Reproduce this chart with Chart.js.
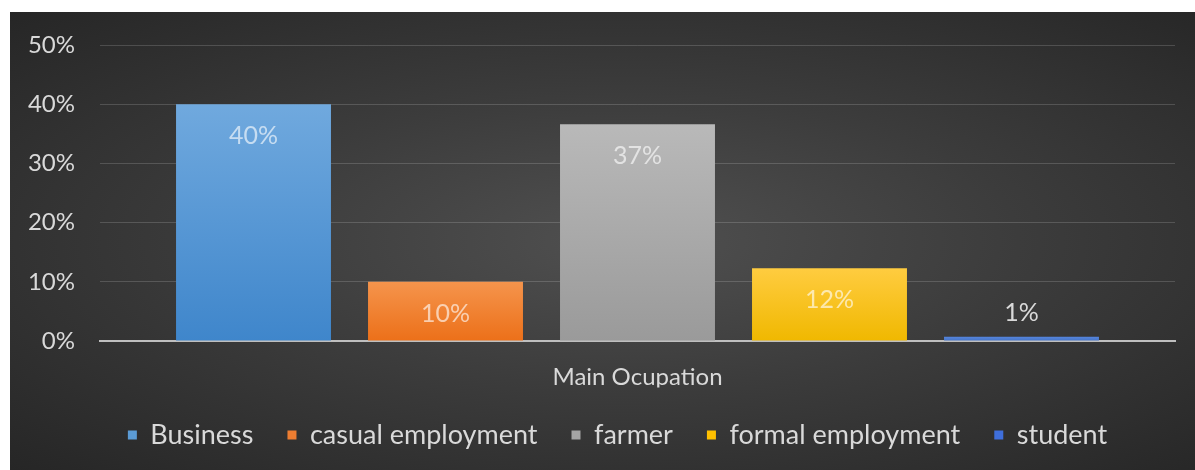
<!DOCTYPE html>
<html>
<head>
<meta charset="utf-8">
<script src="https://cdn.jsdelivr.net/npm/chart.js@4.4.1/dist/chart.umd.min.js"></script>
<style>
  html, body { margin: 0; padding: 0; background: #fff; }
  #panel {
    position: absolute; left: 10px; top: 12px;
    width: 1185px; height: 458px;
    background: radial-gradient(ellipse farthest-corner at 52% 50%, #505050 0%, #3c3c3c 45%, #262626 100%);
  }
  canvas { display: block; }
</style>
</head>
<body>
<div id="panel"><canvas id="occChart" width="1185" height="458"></canvas></div>
<script>
// Main occupation shares (percent)
const categories = ['Main Ocupation'];
const seriesNames = ['Business', 'casual employment', 'farmer', 'formal employment', 'student'];
const seriesValues = [40, 10, 36.6, 12.3, 0.7];
const yTicks = [0, 10, 20, 30, 40, 50];

// top / bottom gradient stops for each bar, plus the legend swatch
const barColours = [
  ['#70a9de', '#3f86cb'],
  ['#f5944c', '#ec7019'],
  ['#b9b9b9', '#9a9a9a'],
  ['#ffcc40', '#f0b800'],
  ['#5585dd', '#4472c4']
];
const swatches = ['#5b9bd5', '#ed7d31', '#a5a5a5', '#ffc000', '#3f6fdc'];

const TEXT = '#d9d9d9';
const FONT = "Lato, 'Open Sans', sans-serif";

const barGradient = (i) => (ctx) => {
  const { chart } = ctx;
  const area = chart.chartArea;
  const y = chart.scales.y;
  if (!area || !y) return barColours[i][1];
  const top = y.getPixelForValue(seriesValues[i]);
  if (!isFinite(top)) return barColours[i][1];
  const g = chart.ctx.createLinearGradient(0, top, 0, area.bottom);
  g.addColorStop(0, barColours[i][0]);
  g.addColorStop(1, barColours[i][1]);
  return g;
};

// value labels: inside the top of the bar, or above it when the bar is too short
const valueLabels = {
  id: 'valueLabels',
  afterDatasetsDraw(chart) {
    const ctx = chart.ctx;
    ctx.save();
    ctx.font = `25px ${FONT}`;
    ctx.textAlign = 'center';
    ctx.textBaseline = 'middle';
    chart.data.datasets.forEach((ds, i) => {
      const bar = chart.getDatasetMeta(i).data[0];
      const v = ds.data[0];
      const txt = Math.round(v) + '%';
      if (bar.base - bar.y > 45) {
        ctx.fillStyle = 'rgba(255,255,255,0.62)';
        ctx.fillText(txt, bar.x, bar.y + 32);
      } else {
        ctx.fillStyle = TEXT;
        ctx.fillText(txt, bar.x, bar.y - 24);
      }
    });
    ctx.restore();
  }
};

// legend row sits a little right of the canvas centre, under the bar group
const legendShift = {
  id: 'legendShift',
  afterLayout(chart) {
    const l = chart.legend;
    l.left += 25;
    l.right += 25;
  }
};

new Chart(document.getElementById('occChart'), {
  type: 'bar',
  data: {
    labels: categories,
    datasets: seriesNames.map((name, i) => ({
      label: name,
      data: [seriesValues[i]],
      backgroundColor: barGradient(i),
      borderWidth: 0,
      categoryPercentage: 0.893,
      barPercentage: 0.807
    }))
  },
  options: {
    responsive: false,
    animation: false,
    layout: { padding: { top: 33, right: 20, bottom: 11.5, left: 0 } },
    plugins: {
      tooltip: { enabled: false },
      legend: {
        position: 'bottom',
        labels: {
          color: TEXT,
          font: { family: FONT, size: 27 },
          boxWidth: 9,
          boxHeight: 9,
          padding: 34,
          generateLabels: (chart) => seriesNames.map((name, i) => ({
            text: name,
            fillStyle: swatches[i],
            strokeStyle: swatches[i],
            lineWidth: 0,
            fontColor: TEXT,
            datasetIndex: i
          }))
        }
      }
    },
    scales: {
      x: {
        // band under the axis only as tall as the category label needs
        afterFit: (s) => { s.height = 46.5; },
        grid: { display: false, drawTicks: false },
        border: { display: true, color: '#bfbfbf', width: 2 },
        ticks: { color: TEXT, font: { family: FONT, size: 24 }, padding: 22 }
      },
      y: {
        min: 0,
        max: 50,
        afterFit: (s) => {
          s.width = 90;
          s.paddingTop = 0;
          s.paddingBottom = 0;
        },
        afterBuildTicks: (s) => { s.ticks = yTicks.map(v => ({ value: v })); },
        grid: { color: 'rgba(255,255,255,0.16)', lineWidth: 1, drawTicks: false },
        border: { display: false },
        ticks: {
          color: TEXT,
          font: { family: FONT, size: 24 },
          padding: 25,
          callback: (v) => v + '%'
        }
      }
    }
  },
  plugins: [valueLabels, legendShift]
});
</script>
</body>
</html>
